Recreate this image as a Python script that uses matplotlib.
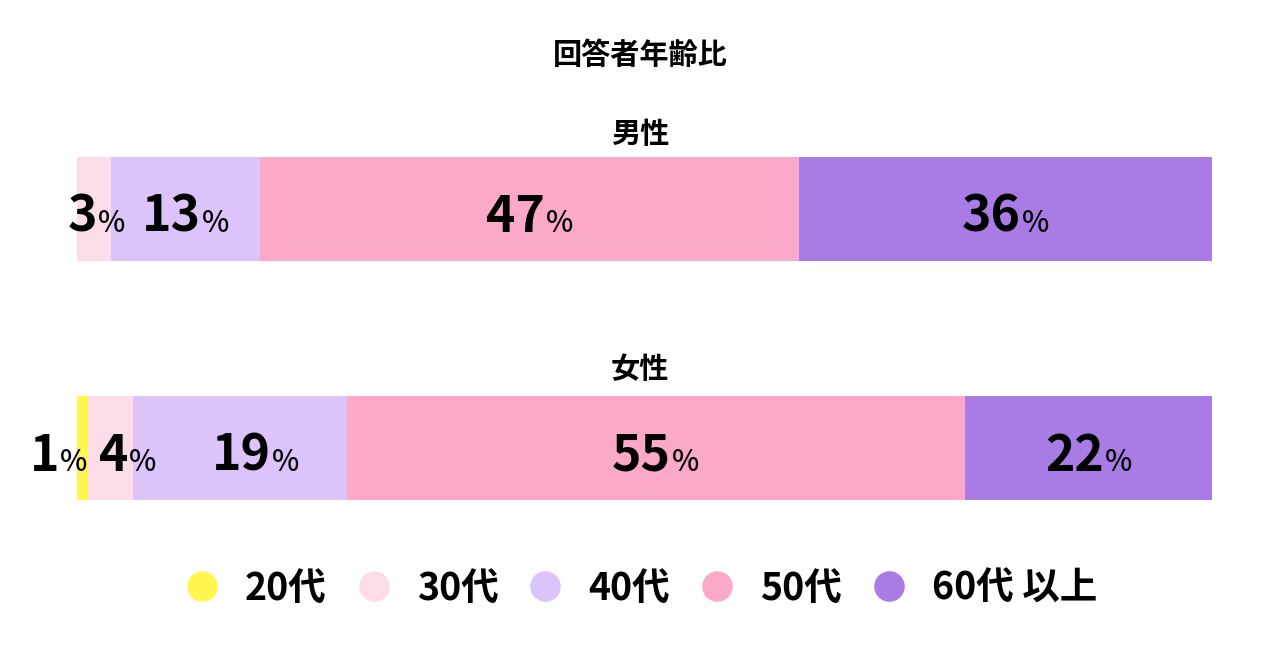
import numpy as np
import matplotlib.pyplot as plt
from matplotlib.lines import Line2D

plt.rcParams['font.family'] = ['Noto Sans CJK JP', 'DejaVu Sans']

title = '回答者年齢比'
groups = ['男性', '女性']
ages = ['20代', '30代', '40代', '50代', '60代 以上']
colors = ['#FFF650', '#FCDCE8', '#DCC3FA', '#FCA8C8', '#A97BE4']
male = [0, 3, 13, 47, 36]
female = [1, 4, 19, 55, 22]
# label nudges in pixels (to keep small labels apart)
male_nudge = [0, 2, 0, 0, 0]
female_nudge = [-24, 17, 16, 0, 0]

fig = plt.figure(figsize=(12.8, 6.65), dpi=100)
ax = fig.add_axes([77 / 1280, 1 - 500 / 665, (1212 - 77) / 1280, 343 / 665])
ax.set_xlim(0, 100)
ax.set_ylim(-0.2176, 1.2176)
ax.axis('off')

renderer = fig.canvas.get_renderer()
bar_h = 0.435

for yc, vals, nudges in [(1, male, male_nudge), (0, female, female_nudge)]:
    vals = np.array(vals, dtype=float)
    widths = vals / vals.sum() * 100
    lefts = np.concatenate([[0], np.cumsum(widths)[:-1]])
    ax.barh(yc, widths, left=lefts, height=bar_h, color=colors, linewidth=0)
    for v, l, w, nd in zip(vals, lefts, widths, nudges):
        if v == 0:
            continue
        cx = l + w / 2
        t1 = ax.text(0, 0, str(int(v)), fontsize=36, fontweight='bold')
        t2 = ax.text(0, 0, '%', fontsize=21, fontweight='medium')
        w1 = t1.get_window_extent(renderer).width
        w2 = t2.get_window_extent(renderer).width
        t1.remove()
        t2.remove()
        gap = 1
        total = w1 + gap + w2
        dx = (-total / 2 + w1 + nd) * 0.72
        ax.annotate(str(int(v)), (cx, yc), xytext=(dx, -16.5), textcoords='offset points',
                    ha='right', va='baseline', fontsize=36, fontweight='bold', color='black')
        ax.annotate('%', (cx, yc), xytext=(dx + gap * 0.72, -16.5), textcoords='offset points',
                    ha='left', va='baseline', fontsize=21, fontweight='medium', color='black')

fig.text(0.5, 1 - 55 / 665, title, ha='center', va='center', fontsize=21, fontweight='bold')
fig.text(0.5, 1 - 134 / 665, groups[0], ha='center', va='center', fontsize=21, fontweight='bold')
fig.text(0.5, 1 - 369 / 665, groups[1], ha='center', va='center', fontsize=21, fontweight='bold')

handles = [Line2D([], [], marker='o', linestyle='none', markersize=22,
                  markerfacecolor=c, markeredgewidth=0) for c in colors]
leg = fig.legend(handles, ages, loc='center', bbox_to_anchor=(0.5, 1 - 588 / 665),
                 ncol=5, frameon=False, handlelength=1.0, handletextpad=0.65,
                 columnspacing=0.75, prop={'size': 27, 'weight': 'bold'})

fig.savefig('out.png', dpi=100)
